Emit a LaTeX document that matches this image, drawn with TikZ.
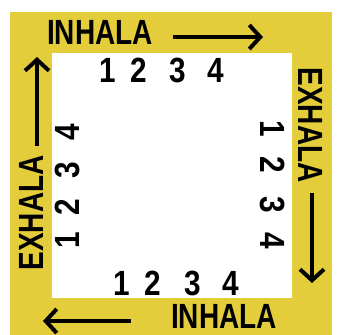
\documentclass[tikz,border=0pt]{standalone}
\usepackage{fontspec}
\setmainfont{Liberation Sans}
\usetikzlibrary{arrows.meta}
\definecolor{marco}{RGB}{228,205,58}
\tikzset{
  rotulo/.style={font=\bfseries\fontsize{35}{35}\selectfont, inner sep=0pt, xscale=0.8},
  cifra/.style={font=\bfseries\fontsize{35}{35}\selectfont, inner sep=0pt, xscale=0.85},
  flecha/.style={-{Straight Barb[length=11pt, width=24pt]}, line width=4pt, color=black}
}
\begin{document}
\begin{tikzpicture}[x=1pt, y=-1pt]
  \useasboundingbox[fill=white] (0,0) rectangle (354,335);
  % marco amarillo
  \fill[marco] (10,12) rectangle (332,335);
  \fill[white] (52,53) rectangle (292,298);
  % rotulos
  \node[rotulo] (inhA) at (100,32) {INHALA};
  \node[rotate=-90, rotulo] (exhA) at (311,125) {EXHALA};
  \node[rotulo] (inhB) at (224,316) {INHALA};
  \node[rotate=90, rotulo] (exhB) at (31,213) {EXHALA};
  % cifras
  \foreach \n/\x in {1/108, 2/139, 3/178, 4/216}
    \node[cifra] (arr\n) at (\x,70) {\n};
  \foreach \n/\y in {1/129, 2/165, 3/205, 4/241}
    \node[rotate=-90, cifra] (der\n) at (273,\y) {\n};
  \foreach \n/\x in {1/122, 2/153, 3/193, 4/231}
    \node[cifra] (aba\n) at (\x,283) {\n};
  \foreach \n/\y in {1/240, 2/207, 3/170, 4/132}
    \node[rotate=90, cifra] (izq\n) at (67,\y) {\n};
  % flechas
  \coordinate (fA) at (263,37);
  \coordinate (fB) at (312,283);
  \coordinate (fC) at (43,321);
  \coordinate (fD) at (37,57);
  \draw[flecha] (inhA.east) ++(20,5) -- (fA);
  \draw[flecha] (exhA.east) ++(1,10) -- (fB);
  \draw[flecha] (inhB.west) ++(-40,5) -- (fC);
  \draw[flecha] (exhB.east) ++(6,-9) -- (fD);
\end{tikzpicture}
\end{document}
